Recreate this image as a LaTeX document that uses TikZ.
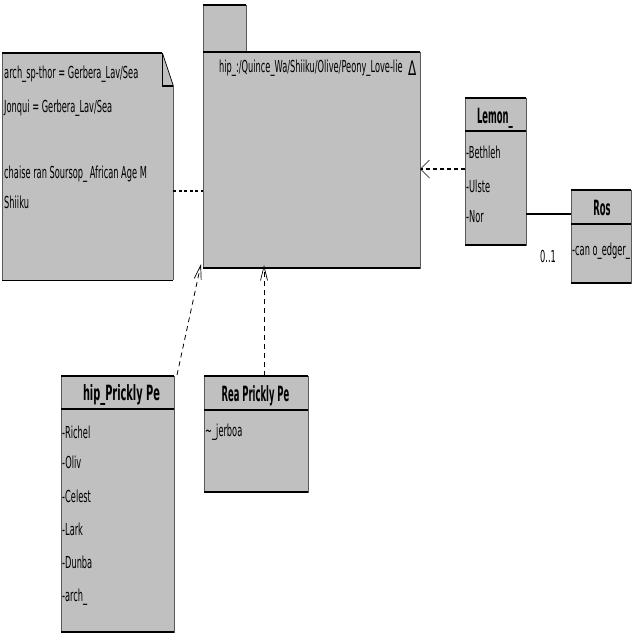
\documentclass[tikz,border=0pt]{standalone}
\usepackage{fontspec}
\setmainfont{DejaVu Sans}[FakeStretch=0.5]
\newfontfamily\ttlfont{DejaVu Sans}[FakeStretch=0.40]
\newfontfamily\ttlwidefont{DejaVu Sans}[FakeStretch=0.467]
\newfontfamily\trifont{DejaVu Sans}[FakeStretch=0.6]
\usetikzlibrary{arrows.meta,calc}
\definecolor{boxgray}{HTML}{C0C0C0}
\begin{document}
\begin{tikzpicture}[x=1pt,y=-1pt,
  box/.style={draw=gray!70!black, line width=0.6pt, fill=boxgray, rectangle, anchor=north west, inner sep=0pt, outer sep=0pt},
  edgeline/.style={line width=1.6pt, black},
  txt/.style={anchor=base west, inner sep=0pt, font=\fontsize{16.5}{16}\selectfont},
  ttl/.style={anchor=base, inner sep=0pt, font=\ttlfont\bfseries\fontsize{21}{21}\selectfont},
  depline/.style={line width=0.8pt, dash pattern=on 5pt off 4pt},
  barb/.style={-{Straight Barb[length=14pt,width=7pt,line width=0.7pt]}}
]
\useasboundingbox (0,0) rectangle (640,640);

% ---------- note ----------
\node[anchor=north west, inner sep=0pt, minimum width=171pt, minimum height=227pt] (note) at (2,53) {};
\fill[boxgray] (note.north west) -- ($(note.north east)+(-11,0)$) -- ($(note.north east)+(0,33)$) -- (note.south east) -- (note.south west) -- cycle;
\draw[gray!70!black, line width=0.6pt] (note.north west) -- (note.south west);
\draw[gray!70!black, line width=0.6pt] ($(note.north east)+(0,33)$) -- (note.south east);
\draw[edgeline] (note.north west) -- ($(note.north east)+(-11,0)$);
\draw[edgeline] (note.south west) -- (note.south east);
\draw[line width=0.7pt] ($(note.north east)+(-11,0)$) -- ($(note.north east)+(-11,33)$);
\draw[line width=0.7pt] ($(note.north east)+(-11,0)$) -- ($(note.north east)+(0,33)$);
\draw[edgeline] ($(note.north east)+(-11,33)$) -- ($(note.north east)+(0,33)$);
\node[txt] (n1) at (4,78) {arch\_sp-thor = Gerbera\_Lav/Sea};
\node[txt] (n2) at (4,112) {Jonqui = Gerbera\_Lav/Sea};
\node[txt] (n3) at (4,178) {chaise ran Soursop\_ African Age M};
\node[txt] (n4) at (4,208) {Shiiku};

% ---------- package ----------
\node[box, minimum width=43pt, minimum height=47pt] (pkgtab) at (203,5) {};
\draw[edgeline] (pkgtab.north west) -- (pkgtab.north east);
\node[box, minimum width=217pt, minimum height=216pt] (pkg) at (203,52) {};
\draw[edgeline] (pkg.north west) -- (pkg.north east);
\draw[edgeline] (pkg.south west) -- (pkg.south east);
\node[txt] (pkgname) at (219,72) {hip\_:/Quince\_Wa/Shiiku/Olive/Peony\_Love-lie};
\node[txt, font=\trifont\fontsize{20}{20}\selectfont] (pkgtri) at (408,75) {Δ};

% ---------- Lemon ----------
\node[box, minimum width=61pt, minimum height=147pt] (lemon) at (465,98) {};
\draw[edgeline] (lemon.north west) -- (lemon.north east);
\draw[edgeline] (lemon.south west) -- (lemon.south east);
\draw[edgeline] ($(lemon.north west)+(0,33)$) -- ($(lemon.north east)+(0,33)$);
\node[ttl] (lemont) at (495,123) {Lemon\_};
\node[txt] (l1) at (466,158) {-Bethleh};
\node[txt] (l2) at (466,192) {-Ulste};
\node[txt] (l3) at (466,222) {-Nor};

% ---------- Ros ----------
\node[box, minimum width=60pt, minimum height=93pt] (ros) at (571,190) {};
\draw[edgeline] (ros.north west) -- (ros.north east);
\draw[edgeline] (ros.south west) -- (ros.south east);
\draw[edgeline] ($(ros.north west)+(0,34)$) -- ($(ros.north east)+(0,34)$);
\node[ttl] (rost) at (602,215) {Ros};
\node[txt] (r1) at (572,255) {-can o\_edger\_};
\node[txt] (mult) at (540,262) {0..1};

% ---------- hip_Prickly Pe ----------
\node[box, minimum width=113pt, minimum height=256pt] (hpp) at (61,376) {};
\draw[edgeline] (hpp.north west) -- (hpp.north east);
\draw[edgeline] (hpp.south west) -- (hpp.south east);
\draw[edgeline] ($(hpp.north west)+(0,33)$) -- ($(hpp.north east)+(0,33)$);
\node[ttl, font=\ttlwidefont\bfseries\fontsize{21}{21}\selectfont] (hppt) at (121.5,400) {hip\_Prickly Pe};
\node[txt] (h1) at (62,438) {-Richel};
\node[txt] (h2) at (62,468) {-Oliv};
\node[txt] (h3) at (62,502) {-Celest};
\node[txt] (h4) at (62,535) {-Lark};
\node[txt] (h5) at (62,568) {-Dunba};
\node[txt] (h6) at (62,601) {-arch\_};

% ---------- Rea Prickly Pe ----------
\node[box, minimum width=104pt, minimum height=116pt] (rea) at (204,376) {};
\draw[edgeline] (rea.north west) -- (rea.north east);
\draw[edgeline] (rea.south west) -- (rea.south east);
\draw[edgeline] ($(rea.north west)+(0,34)$) -- ($(rea.north east)+(0,34)$);
\node[ttl] (reat) at (255.5,401) {Rea Prickly Pe};
\node[txt] (e1) at (205,436) {\textasciitilde\_jerboa};

% ---------- connector end points ----------
\coordinate (noteOut) at ($(note.north east)+(0,138)$);
\coordinate (pkgInNote) at (noteOut -| pkg.west);
\coordinate (lemonOut) at ($(lemon.north west)+(0,71)$);
\coordinate (pkgInLemon) at (lemonOut -| pkg.east);
\coordinate (rosIn) at ($(ros.north west)+(0,24)$);
\coordinate (lemonAssoc) at (rosIn -| lemon.east);
\coordinate (hppOut) at ($(hpp.north east)+(3,-1)$);
\coordinate (pkgInHpp) at ($(pkg.south west)+(-2,-4)$);
\coordinate (reaOut) at ($(rea.north west)+(60,0)$);
\coordinate (pkgInRea) at ($(reaOut |- pkg.south)+(0,-3)$);

% ---------- connectors ----------
\draw[line width=1.6pt, dash pattern=on 3pt off 2.5pt] (noteOut) -- (pkgInNote);
\draw[line width=1.4pt, dash pattern=on 4pt off 3pt, -{Straight Barb[length=9pt,width=18pt,line width=0.7pt]}] (lemonOut) -- (pkgInLemon);
\draw[line width=1.2pt] (lemonAssoc) -- (rosIn);
\draw[depline, barb] (hppOut) -- (pkgInHpp);
\draw[depline, barb] (reaOut) -- (pkgInRea);
\end{tikzpicture}
\end{document}
